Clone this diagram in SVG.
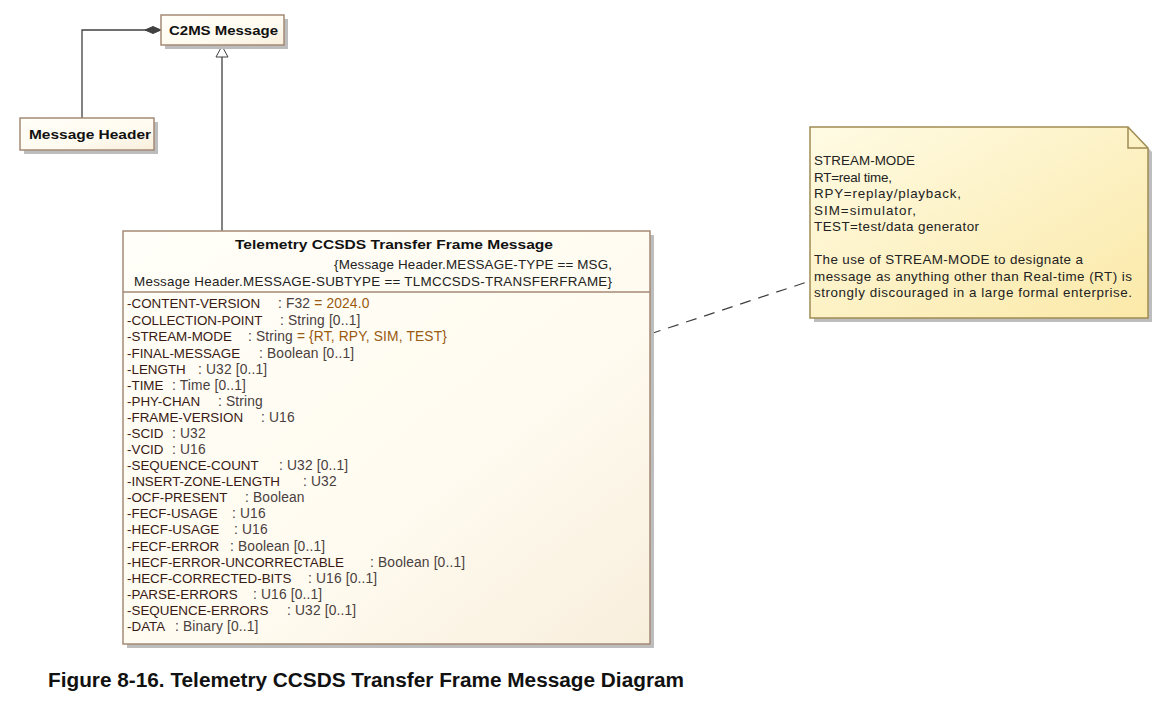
<svg xmlns="http://www.w3.org/2000/svg" width="1175" height="702" viewBox="0 0 1175 702">
<defs>
<linearGradient id="gCls" x1="0" y1="0" x2="1" y2="1">
<stop offset="0" stop-color="#FFFEF8"/>
<stop offset="0.6" stop-color="#FFFBF0"/>
<stop offset="1" stop-color="#F8EEDC"/>
</linearGradient>
<linearGradient id="gNote" x1="0" y1="0" x2="1" y2="1">
<stop offset="0" stop-color="#FFFBE4"/>
<stop offset="1" stop-color="#FBE9A8"/>
</linearGradient>
<marker id="diamond" markerWidth="18" markerHeight="10" refX="17" refY="5" orient="auto" markerUnits="userSpaceOnUse">
<path d="M1,5 L9,1.5 L17,5 L9,8.5 Z" fill="#404040" stroke="#404040"/>
</marker>
<marker id="tri" markerWidth="14" markerHeight="14" refX="7" refY="1" orient="0" markerUnits="userSpaceOnUse">
<path d="M1,12 L7,1 L13,12 Z" fill="#FFFFFF" stroke="#404040"/>
</marker>
</defs>
<style>
.box{fill:url(#gCls);stroke:#A58A76;stroke-width:1.5}
.shadow{fill:#BDBDBD}
.t{font-family:"Liberation Sans",Arial,sans-serif;font-size:13.4px}
.nm{fill:#3A1A14}
.ty{fill:#4A4040;font-size:13.8px;letter-spacing:0.15px}
.dv{fill:#9A5A10}
.b{font-weight:bold;fill:#111}
.note{font-family:"Liberation Sans",Arial,sans-serif;font-size:13.4px;fill:#222}
.conn{fill:none;stroke:#404040;stroke-width:1.3}
</style>
<rect width="1175" height="702" fill="#FFFFFF"/>

<g id="connectors">
<polyline class="conn" points="82,118 82,30 161,30" marker-end="url(#diamond)"/>
<line class="conn" x1="222" y1="231" x2="222" y2="46" marker-end="url(#tri)"/>
<line x1="650" y1="334" x2="810" y2="281" stroke="#404040" stroke-width="1.2" stroke-dasharray="11,8"/>
<circle cx="647" cy="335" r="3" fill="#FFFFFF" stroke="#A07050" stroke-width="1"/>
</g>

<g id="c2ms-message">
<rect class="shadow" x="165" y="19" width="123" height="30"/>
<rect class="box" x="161" y="15" width="123" height="30"/>
<text class="t b" x="169" y="34.5" textLength="109" lengthAdjust="spacingAndGlyphs">C2MS Message</text>
</g>

<g id="message-header">
<rect class="shadow" x="24" y="122" width="134" height="32"/>
<rect class="box" x="20" y="118" width="134" height="32"/>
<text class="t b" x="29" y="138.5" textLength="122" lengthAdjust="spacingAndGlyphs">Message Header</text>
</g>

<g id="telemetry-ccsds-transfer-frame-message">
<rect class="shadow" x="127" y="235" width="527" height="413"/>
<rect class="box" x="123" y="231" width="527" height="413"/>
<line x1="123" y1="292" x2="650" y2="292" stroke="#A58A76" stroke-width="1.3"/>
<text class="t b" x="235" y="249" textLength="318" lengthAdjust="spacingAndGlyphs">Telemetry CCSDS Transfer Frame Message</text>
<text class="t" x="334" y="268.5" fill="#222" font-size="13.8" textLength="278">{Message Header.MESSAGE-TYPE == MSG,</text>
<text class="t" x="134" y="285.5" fill="#222" font-size="13.8" textLength="478">Message Header.MESSAGE-SUBTYPE == TLMCCSDS-TRANSFERFRAME}</text>

<text class="t nm" x="127" y="308">-CONTENT-VERSION</text><text class="t ty" x="278" y="308">: F32 <tspan class="dv">= 2024.0</tspan></text>
<text class="t nm" x="127" y="325">-COLLECTION-POINT</text><text class="t ty" x="280" y="325">: String [0..1]</text>
<text class="t nm" x="127" y="341">-STREAM-MODE</text><text class="t ty" x="248" y="341">: String <tspan class="dv">= {RT, RPY, SIM, TEST}</tspan></text>
<text class="t nm" x="127" y="357.5">-FINAL-MESSAGE</text><text class="t ty" x="259" y="357.5">: Boolean [0..1]</text>
<text class="t nm" x="127" y="373.5">-LENGTH</text><text class="t ty" x="198" y="373.5">: U32 [0..1]</text>
<text class="t nm" x="127" y="389.5">-TIME</text><text class="t ty" x="172" y="389.5">: Time [0..1]</text>
<text class="t nm" x="127" y="405.5">-PHY-CHAN</text><text class="t ty" x="218" y="405.5">: String</text>
<text class="t nm" x="127" y="421.5">-FRAME-VERSION</text><text class="t ty" x="261" y="421.5">: U16</text>
<text class="t nm" x="127" y="437.5">-SCID</text><text class="t ty" x="172" y="437.5">: U32</text>
<text class="t nm" x="127" y="453.5">-VCID</text><text class="t ty" x="172" y="453.5">: U16</text>
<text class="t nm" x="127" y="469.5">-SEQUENCE-COUNT</text><text class="t ty" x="279" y="469.5">: U32 [0..1]</text>
<text class="t nm" x="127" y="485.5">-INSERT-ZONE-LENGTH</text><text class="t ty" x="303" y="485.5">: U32</text>
<text class="t nm" x="127" y="502">-OCF-PRESENT</text><text class="t ty" x="245" y="502">: Boolean</text>
<text class="t nm" x="127" y="518">-FECF-USAGE</text><text class="t ty" x="232" y="518">: U16</text>
<text class="t nm" x="127" y="534">-HECF-USAGE</text><text class="t ty" x="234" y="534">: U16</text>
<text class="t nm" x="127" y="550.5">-FECF-ERROR</text><text class="t ty" x="230" y="550.5">: Boolean [0..1]</text>
<text class="t nm" x="127" y="566.5">-HECF-ERROR-UNCORRECTABLE</text><text class="t ty" x="370" y="566.5">: Boolean [0..1]</text>
<text class="t nm" x="127" y="582.5">-HECF-CORRECTED-BITS</text><text class="t ty" x="308" y="582.5">: U16 [0..1]</text>
<text class="t nm" x="127" y="598.5">-PARSE-ERRORS</text><text class="t ty" x="253" y="598.5">: U16 [0..1]</text>
<text class="t nm" x="127" y="614.5">-SEQUENCE-ERRORS</text><text class="t ty" x="287" y="614.5">: U32 [0..1]</text>
<text class="t nm" x="127" y="631">-DATA</text><text class="t ty" x="175" y="631">: Binary [0..1]</text>
</g>

<g id="note-stream-mode">
<path d="M814,131 L1132,131 L1152,152 L1152,322 L814,322 Z" fill="#BDBDBD"/>
<path d="M810,127 L1128,127 L1148,148 L1148,318 L810,318 Z" fill="url(#gNote)" stroke="#9E8C52" stroke-width="1.5"/>
<path d="M1128,127 L1128,148 L1148,148" fill="none" stroke="#9E8C52" stroke-width="1.5"/>
<text class="note" x="814" y="165" textLength="101">STREAM-MODE</text>
<text class="note" x="814" y="181.5" textLength="78">RT=real time,</text>
<text class="note" x="814" y="198" textLength="147">RPY=replay/playback,</text>
<text class="note" x="814" y="214.5" textLength="102">SIM=simulator,</text>
<text class="note" x="814" y="231" textLength="165">TEST=test/data generator</text>
<text class="note" x="814" y="264" textLength="269">The use of STREAM-MODE to designate a</text>
<text class="note" x="814" y="280.5" textLength="318">message as anything other than Real-time (RT) is</text>
<text class="note" x="814" y="297" textLength="318">strongly discouraged in a large formal enterprise.</text>
</g>

<text x="48" y="687" font-family="'Liberation Sans',Arial,sans-serif" font-size="19.6" font-weight="bold" fill="#111" textLength="636" lengthAdjust="spacingAndGlyphs">Figure 8-16. Telemetry CCSDS Transfer Frame Message Diagram</text>
</svg>
